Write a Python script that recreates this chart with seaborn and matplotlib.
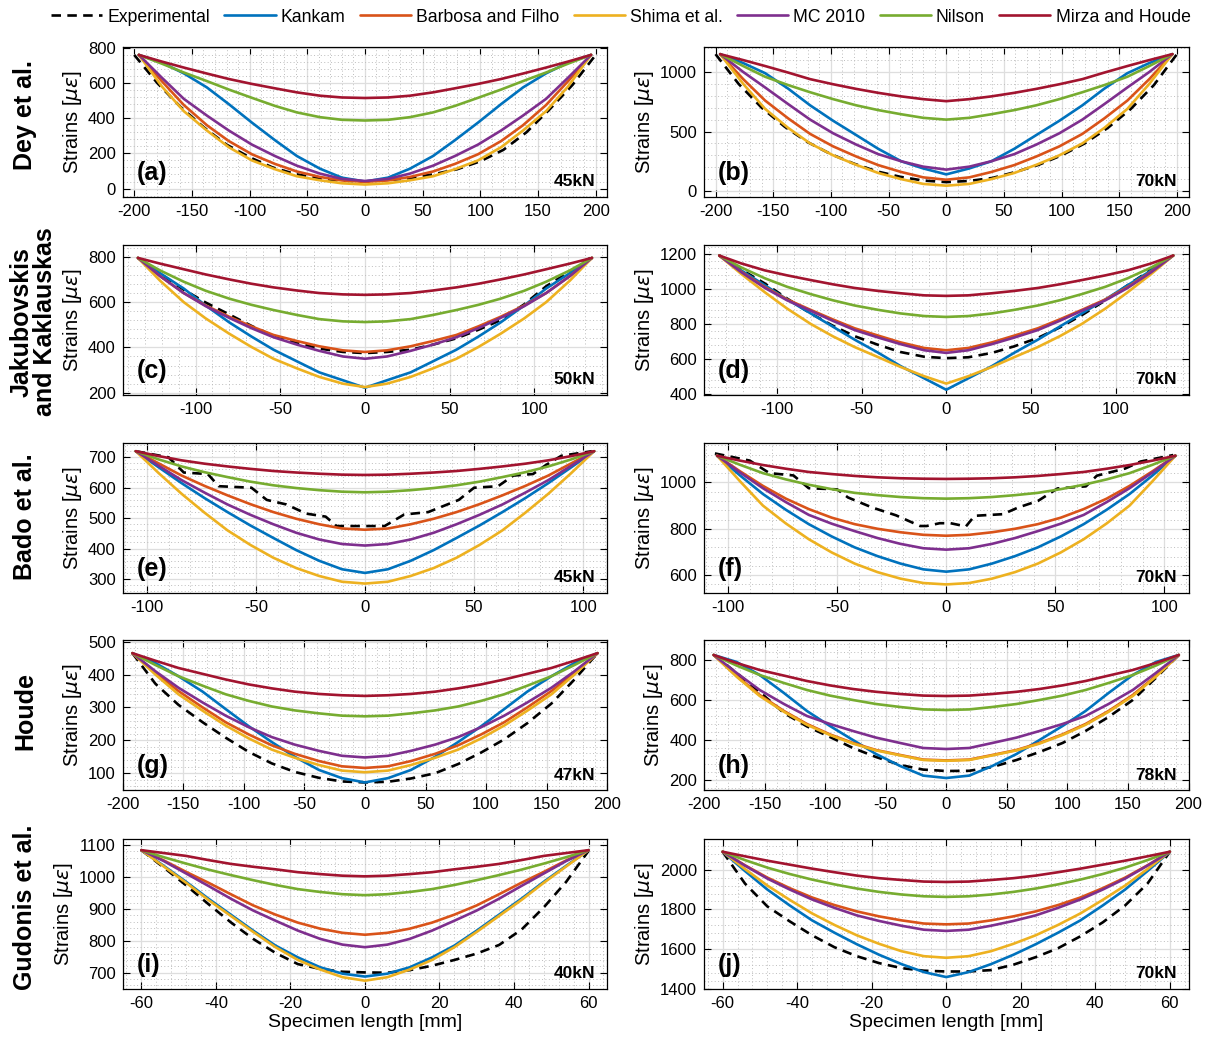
import matplotlib
matplotlib.use("Agg")
import matplotlib.pyplot as plt
import seaborn as sns
from matplotlib.ticker import AutoMinorLocator

sns.set_theme(style="ticks")
plt.rcParams['font.family'] = ['Liberation Sans', 'DejaVu Sans']
plt.rcParams['mathtext.fontset'] = 'dejavusans'
plt.rcParams['axes.unicode_minus'] = False
for key in ['text.color', 'axes.labelcolor', 'xtick.color', 'ytick.color']:
    plt.rcParams[key] = 'black'

# legend / series names
series_names = ["Experimental", "Kankam", "Barbosa and Filho", "Shima et al.",
                "MC 2010", "Nilson", "Mirza and Houde"]
model_colors = ["#0072BD", "#D95319", "#EDB120", "#7E2F8E", "#77AC30", "#A2142F"]

row_titles = ["Dey et al.", "Jakubovskis\nand Kaklauskas", "Bado et al.", "Houde", "Gudonis et al."]
tags = ["(a)", "(b)", "(c)", "(d)", "(e)", "(f)", "(g)", "(h)", "(i)", "(j)"]
loads = ["45kN", "70kN", "50kN", "70kN", "45kN", "70kN", "47kN", "78kN", "40kN", "70kN"]

# ---- sample positions along the specimen [mm] ----
x_ab = [-196, -176, -157, -137, -118, -98, -78, -59, -39, -20, 0,
        20, 39, 59, 78, 98, 118, 137, 157, 176, 196]
x_cd = [-134, -121, -107, -94, -80, -67, -54, -40, -27, -13, 0,
        13, 27, 40, 54, 67, 80, 94, 107, 121, 134]
x_ef = [-105, -94.5, -84, -73.5, -63, -52.5, -42, -31.5, -21, -10.5, 0,
        10.5, 21, 31.5, 42, 52.5, 63, 73.5, 84, 94.5, 105]
x_gh = [-192, -173, -154, -134, -115, -96, -77, -58, -38, -19, 0,
        19, 38, 58, 77, 96, 115, 134, 154, 173, 192]
x_ij = [-60, -54, -48, -42, -36, -30, -24, -18, -12, -6, 0,
        6, 12, 18, 24, 30, 36, 42, 48, 54, 60]
exp_x_ab = [-200, -180, -160, -140, -120, -100, -80, -60, -40, -20, 0,
            20, 40, 60, 80, 100, 120, 140, 160, 180, 200]

# ---- (a) Dey et al. 45kN ----
exp_a = [760, 600, 465, 350, 250, 178, 120, 82, 57, 45, 40, 48, 60, 82, 110, 155, 220, 320, 450, 590, 760]
kankam_a = [760, 716, 655, 575, 480, 375, 275, 185, 113, 62, 40, 62, 113, 185, 275, 375, 480, 575, 655, 716, 760]
barbosa_a = [760, 610, 475, 360, 270, 195, 140, 97, 66, 46, 38, 46, 66, 97, 140, 195, 270, 360, 475, 610, 760]
shima_a = [760, 580, 440, 330, 235, 160, 110, 70, 47, 30, 23, 30, 47, 70, 110, 160, 235, 330, 440, 580, 760]
mc2010_a = [760, 630, 510, 415, 330, 250, 185, 130, 85, 55, 43, 55, 85, 130, 185, 250, 330, 415, 510, 630, 760]
nilson_a = [760, 710, 660, 611, 563, 516, 470, 433, 406, 391, 387, 391, 406, 433, 470, 516, 563, 611, 660, 710, 760]
mirza_a = [760, 722, 688, 654, 623, 595, 570, 547, 528, 518, 515, 518, 528, 547, 570, 595, 623, 654, 688, 722, 760]

# ---- (b) Dey et al. 70kN ----
exp_b = [1150, 900, 700, 540, 410, 310, 230, 165, 120, 88, 75, 85, 110, 160, 220, 300, 400, 530, 690, 890, 1150]
kankam_b = [1150, 1075, 990, 860, 720, 590, 470, 355, 250, 190, 140, 190, 250, 355, 470, 590, 720, 860, 990, 1075, 1150]
barbosa_b = [1150, 940, 760, 610, 480, 375, 290, 218, 160, 115, 95, 115, 160, 218, 290, 375, 480, 610, 760, 940, 1150]
shima_b = [1150, 900, 690, 530, 400, 300, 220, 152, 100, 60, 45, 60, 100, 152, 220, 300, 400, 530, 690, 900, 1150]
mc2010_b = [1150, 1000, 870, 730, 600, 485, 390, 310, 250, 205, 180, 205, 250, 310, 390, 485, 600, 730, 870, 1000, 1150]
nilson_b = [1150, 1050, 960, 890, 830, 772, 720, 680, 645, 615, 600, 615, 645, 680, 720, 772, 830, 890, 960, 1050, 1150]
mirza_b = [1150, 1100, 1050, 995, 940, 897, 858, 825, 795, 772, 755, 772, 795, 825, 858, 897, 940, 995, 1050, 1100, 1150]

# ---- (c) Jakubovskis and Kaklauskas 50kN ----
exp_c = [795, 725, 655, 598, 545, 495, 450, 420, 395, 380, 375, 380, 390, 412, 440, 478, 520, 590, 670, 735, 800]
kankam_c = [795, 728, 660, 585, 510, 448, 390, 338, 290, 255, 222, 255, 290, 338, 390, 448, 510, 585, 660, 728, 795]
barbosa_c = [795, 715, 640, 585, 535, 493, 455, 428, 405, 387, 380, 387, 405, 428, 455, 493, 535, 585, 640, 715, 795]
shima_c = [795, 695, 600, 528, 460, 402, 350, 307, 270, 240, 225, 240, 270, 307, 350, 402, 460, 528, 600, 695, 795]
mc2010_c = [795, 715, 640, 582, 530, 485, 445, 412, 385, 360, 350, 360, 385, 412, 445, 485, 530, 582, 640, 715, 795]
nilson_c = [795, 740, 690, 650, 615, 588, 565, 543, 525, 515, 512, 515, 525, 543, 565, 588, 615, 650, 690, 740, 795]
mirza_c = [795, 770, 745, 722, 700, 681, 665, 651, 640, 634, 632, 634, 640, 651, 665, 681, 700, 722, 745, 770, 795]

# ---- (d) Jakubovskis and Kaklauskas 70kN ----
exp_d = [1190, 1110, 1030, 945, 860, 790, 730, 680, 640, 613, 605, 610, 635, 672, 720, 780, 850, 935, 1020, 1110, 1195]
kankam_d = [1190, 1105, 1020, 940, 860, 785, 710, 635, 560, 490, 425, 490, 560, 635, 710, 785, 860, 940, 1020, 1105, 1190]
barbosa_d = [1190, 1098, 1010, 940, 880, 826, 775, 733, 695, 663, 650, 663, 695, 733, 775, 826, 880, 940, 1010, 1098, 1190]
shima_d = [1190, 1085, 980, 888, 800, 730, 668, 610, 555, 502, 460, 502, 555, 610, 668, 730, 800, 888, 980, 1085, 1190]
mc2010_d = [1190, 1095, 1005, 935, 875, 818, 765, 722, 685, 650, 635, 650, 685, 722, 765, 818, 875, 935, 1005, 1095, 1190]
nilson_d = [1190, 1122, 1060, 1012, 970, 935, 905, 880, 860, 845, 840, 845, 860, 880, 905, 935, 970, 1012, 1060, 1122, 1190]
mirza_d = [1190, 1145, 1105, 1077, 1050, 1026, 1005, 988, 975, 963, 960, 963, 975, 988, 1005, 1026, 1050, 1077, 1105, 1145, 1190]

# ---- (e) Bado et al. 45kN ----
exp_x_e = [-105, -90, -83, -72, -67, -52, -45, -36, -27, -18, -13, 9, 18, 29, 36,
           43, 50, 61, 68, 77, 83, 90, 104]
exp_e = [720, 700, 650, 645, 605, 600, 560, 545, 515, 505, 474, 474, 512, 520, 540,
         560, 600, 605, 640, 645, 675, 705, 720]
kankam_e = [720, 667, 615, 566, 520, 476, 435, 395, 360, 332, 320, 332, 360, 395, 435, 476, 520, 566, 615, 667, 720]
barbosa_e = [720, 680, 640, 606, 575, 546, 520, 498, 480, 466, 462, 466, 480, 498, 520, 546, 575, 606, 640, 680, 720]
shima_e = [720, 648, 580, 518, 460, 412, 370, 336, 310, 291, 285, 291, 310, 336, 370, 412, 460, 518, 580, 648, 720]
mc2010_e = [720, 672, 625, 584, 545, 511, 480, 452, 430, 415, 410, 415, 430, 452, 480, 511, 545, 584, 625, 672, 720]
nilson_e = [720, 693, 670, 651, 635, 620, 608, 599, 592, 587, 585, 587, 592, 599, 608, 620, 635, 651, 670, 693, 720]
mirza_e = [720, 704, 690, 679, 670, 662, 655, 650, 646, 643, 642, 643, 646, 650, 655, 662, 670, 679, 690, 704, 720]

# ---- (f) Bado et al. 70kN ----
exp_x_f = [-106, -90, -81, -70, -63, -50, -45, -34, -23, -12, -9, -3, 2, 9, 13, 26,
           33, 42, 51, 64, 69, 82, 89, 104]
exp_f = [1125, 1094, 1040, 1030, 975, 970, 935, 892, 858, 812, 812, 824, 824, 810,
         856, 863, 892, 920, 974, 983, 1029, 1060, 1090, 1118]
kankam_f = [1115, 1030, 950, 882, 820, 767, 720, 682, 650, 625, 615, 625, 650, 682, 720, 767, 820, 882, 950, 1030, 1115]
barbosa_f = [1115, 1048, 985, 930, 885, 848, 820, 800, 785, 774, 770, 774, 785, 800, 820, 848, 885, 930, 985, 1048, 1115]
shima_f = [1115, 1005, 900, 823, 755, 698, 650, 613, 585, 566, 560, 566, 585, 613, 650, 698, 755, 823, 900, 1005, 1115]
mc2010_f = [1115, 1043, 975, 915, 860, 822, 790, 760, 735, 716, 710, 716, 735, 760, 790, 822, 860, 915, 975, 1043, 1115]
nilson_f = [1115, 1076, 1040, 1013, 990, 971, 955, 945, 937, 932, 930, 932, 937, 945, 955, 971, 990, 1013, 1040, 1076, 1115]
mirza_f = [1115, 1094, 1075, 1059, 1045, 1036, 1028, 1022, 1018, 1016, 1015, 1016, 1018, 1022, 1028, 1036, 1045, 1059, 1075, 1094, 1115]

# ---- (g) Houde 47kN ----
exp_g = [465, 372, 308, 255, 208, 165, 130, 104, 86, 75, 72, 74, 84, 100, 128, 163, 203, 252, 312, 385, 465]
kankam_g = [465, 435, 395, 348, 295, 243, 195, 150, 110, 85, 72, 85, 110, 150, 195, 243, 295, 348, 395, 435, 465]
barbosa_g = [465, 405, 350, 300, 255, 218, 185, 159, 137, 121, 116, 121, 137, 159, 185, 218, 255, 300, 350, 405, 465]
shima_g = [465, 400, 340, 290, 245, 206, 172, 147, 125, 108, 103, 108, 125, 147, 172, 206, 245, 290, 340, 400, 465]
mc2010_g = [465, 410, 360, 315, 275, 240, 210, 187, 168, 153, 148, 153, 168, 187, 210, 240, 275, 315, 360, 410, 465]
nilson_g = [465, 429, 395, 366, 340, 320, 303, 291, 282, 275, 273, 275, 282, 291, 303, 320, 340, 366, 395, 429, 465]
mirza_g = [465, 442, 420, 402, 385, 370, 358, 348, 341, 337, 335, 337, 341, 348, 358, 370, 385, 402, 420, 442, 465]

# ---- (h) Houde 78kN ----
exp_h = [825, 735, 640, 535, 468, 415, 360, 315, 275, 252, 245, 246, 265, 300, 340, 385, 445, 515, 600, 710, 825]
kankam_h = [825, 790, 725, 635, 545, 470, 400, 330, 270, 222, 210, 222, 270, 330, 400, 470, 545, 635, 725, 790, 825]
barbosa_h = [825, 720, 625, 545, 480, 428, 385, 350, 325, 302, 298, 302, 325, 350, 385, 428, 480, 545, 625, 720, 825]
shima_h = [825, 716, 620, 541, 476, 425, 382, 348, 323, 300, 296, 300, 323, 348, 382, 425, 476, 541, 620, 716, 825]
mc2010_h = [825, 735, 650, 580, 520, 480, 445, 412, 385, 360, 355, 360, 385, 412, 445, 480, 520, 580, 650, 735, 825]
nilson_h = [825, 772, 725, 685, 650, 622, 600, 580, 565, 553, 550, 553, 565, 580, 600, 622, 650, 685, 725, 772, 825]
mirza_h = [825, 785, 750, 722, 695, 673, 655, 641, 630, 622, 620, 622, 630, 641, 655, 673, 695, 722, 750, 785, 825]

# ---- (i) Gudonis et al. 40kN ----
exp_i = [1084, 1030, 974, 915, 858, 806, 762, 727, 712, 703, 701, 700, 708, 722, 740, 760, 787, 835, 905, 985, 1082]
kankam_i = [1084, 1035, 985, 932, 882, 832, 785, 748, 717, 697, 688, 697, 717, 748, 785, 832, 882, 932, 985, 1035, 1084]
barbosa_i = [1084, 1052, 1016, 982, 946, 911, 882, 857, 838, 825, 819, 825, 838, 857, 882, 911, 946, 982, 1016, 1052, 1084]
shima_i = [1084, 1033, 982, 928, 878, 828, 780, 740, 710, 686, 675, 686, 710, 740, 780, 828, 878, 928, 982, 1033, 1084]
mc2010_i = [1084, 1050, 1011, 972, 932, 895, 863, 832, 806, 788, 780, 788, 806, 832, 863, 895, 932, 972, 1011, 1050, 1084]
nilson_i = [1084, 1062, 1042, 1023, 1006, 990, 975, 962, 953, 946, 943, 946, 953, 962, 975, 990, 1006, 1023, 1042, 1062, 1084]
mirza_i = [1084, 1075, 1066, 1053, 1041, 1032, 1024, 1015, 1009, 1004, 1002, 1004, 1009, 1015, 1024, 1032, 1041, 1053, 1066, 1075, 1084]

# ---- (j) Gudonis et al. 70kN ----
exp_j = [2090, 1930, 1815, 1740, 1670, 1610, 1565, 1530, 1505, 1492, 1488, 1488, 1495, 1522, 1560, 1605, 1665, 1735, 1820, 1930, 2090]
kankam_j = [2090, 1993, 1900, 1820, 1745, 1683, 1625, 1572, 1525, 1485, 1460, 1485, 1525, 1572, 1625, 1683, 1745, 1820, 1900, 1993, 2090]
barbosa_j = [2090, 2022, 1960, 1907, 1860, 1822, 1790, 1765, 1745, 1729, 1725, 1729, 1745, 1765, 1790, 1822, 1860, 1907, 1960, 2022, 2090]
shima_j = [2090, 2003, 1920, 1848, 1780, 1722, 1670, 1627, 1590, 1565, 1557, 1565, 1590, 1627, 1670, 1722, 1780, 1848, 1920, 2003, 2090]
mc2010_j = [2090, 2020, 1955, 1900, 1850, 1808, 1770, 1742, 1718, 1698, 1692, 1698, 1718, 1742, 1770, 1808, 1850, 1900, 1955, 2020, 2090]
nilson_j = [2090, 2048, 2010, 1978, 1950, 1926, 1905, 1888, 1875, 1866, 1863, 1866, 1875, 1888, 1905, 1926, 1950, 1978, 2010, 2048, 2090]
mirza_j = [2090, 2067, 2045, 2025, 2005, 1987, 1970, 1957, 1948, 1940, 1938, 1940, 1948, 1957, 1970, 1987, 2005, 2025, 2045, 2067, 2090]

panels = [
    (x_ab, exp_x_ab, exp_a, [kankam_a, barbosa_a, shima_a, mc2010_a, nilson_a, mirza_a]),
    (x_ab, exp_x_ab, exp_b, [kankam_b, barbosa_b, shima_b, mc2010_b, nilson_b, mirza_b]),
    (x_cd, x_cd, exp_c, [kankam_c, barbosa_c, shima_c, mc2010_c, nilson_c, mirza_c]),
    (x_cd, x_cd, exp_d, [kankam_d, barbosa_d, shima_d, mc2010_d, nilson_d, mirza_d]),
    (x_ef, exp_x_e, exp_e, [kankam_e, barbosa_e, shima_e, mc2010_e, nilson_e, mirza_e]),
    (x_ef, exp_x_f, exp_f, [kankam_f, barbosa_f, shima_f, mc2010_f, nilson_f, mirza_f]),
    (x_gh, x_gh, exp_g, [kankam_g, barbosa_g, shima_g, mc2010_g, nilson_g, mirza_g]),
    (x_gh, x_gh, exp_h, [kankam_h, barbosa_h, shima_h, mc2010_h, nilson_h, mirza_h]),
    (x_ij, x_ij, exp_i, [kankam_i, barbosa_i, shima_i, mc2010_i, nilson_i, mirza_i]),
    (x_ij, x_ij, exp_j, [kankam_j, barbosa_j, shima_j, mc2010_j, nilson_j, mirza_j]),
]

# axis ranges / ticks per panel
xlims = [210, 210, 143, 143, 111, 111, 200, 200, 65, 65]
xtick_sets = [range(-200, 201, 50), range(-200, 201, 50),
              range(-100, 101, 50), range(-100, 101, 50),
              range(-100, 101, 50), range(-100, 101, 50),
              range(-200, 201, 50), range(-200, 201, 50),
              range(-60, 61, 20), range(-60, 61, 20)]
ylims = [(-48, 805), (-50, 1210), (190, 852), (395, 1250), (254, 747),
         (523, 1170), (49, 505), (150, 900), (649, 1119), (1400, 2154)]
ytick_sets = [range(0, 801, 200), range(0, 1001, 500), range(200, 801, 200),
              range(400, 1201, 200), range(300, 701, 100), range(600, 1001, 200),
              range(100, 501, 100), range(200, 801, 200), range(700, 1101, 100),
              range(1400, 2001, 200)]

W, H = 1213, 1045
fig = plt.figure(figsize=(W / 100, H / 100), dpi=100)

col_left = [122.7, 704]
col_width = 484.5
row_top = [47, 245, 443, 640, 839]
row_height = 150
row_title_y = [115, 322, 517, 711, 907]

lw = 1.9
axes = []
for k, (xs, ex, ey, curves) in enumerate(panels):
    r, c = divmod(k, 2)
    ax = fig.add_axes([col_left[c] / W, 1 - (row_top[r] + row_height) / H,
                       col_width / W, row_height / H])
    axes.append(ax)
    sns.lineplot(x=ex, y=ey, ax=ax, color="black", linewidth=lw,
                 linestyle=(0, (3.6, 2.4)), errorbar=None)
    for ys, col in zip(curves, model_colors):
        sns.lineplot(x=xs, y=ys, ax=ax, color=col, linewidth=lw, errorbar=None)

    ax.set_xlim(-xlims[k], xlims[k])
    ax.set_ylim(*ylims[k])
    ax.set_xticks(list(xtick_sets[k]))
    ax.set_yticks(list(ytick_sets[k]))
    ax.xaxis.set_minor_locator(AutoMinorLocator(5))
    ax.yaxis.set_minor_locator(AutoMinorLocator(5))
    ax.grid(which="major", color="#dedede", linewidth=0.9, linestyle="-")
    ax.grid(which="minor", color="#bdbdbd", linewidth=0.7, linestyle=(0, (1, 2.5)))
    ax.set_axisbelow(True)
    ax.tick_params(which="major", direction="in", top=True, right=True,
                   length=5, width=0.8, labelsize=12, colors="black", pad=5)
    ax.tick_params(which="minor", length=0)
    for sp in ax.spines.values():
        sp.set_color("black")
        sp.set_linewidth(0.9)
    ax.set_ylabel(r"Strains [$\mu\epsilon$]", fontsize=14.5, labelpad=3)
    if r == 4:
        ax.set_xlabel("Specimen length [mm]", fontsize=14, labelpad=2)
    else:
        ax.set_xlabel("")
    ax.text(0.029, 0.16, tags[k], transform=ax.transAxes, fontsize=18,
            fontweight="bold", ha="left", va="center")
    ax.text(0.975, 0.1, loads[k], transform=ax.transAxes, fontsize=12.5,
            fontweight="bold", ha="right", va="center")

for r, title in enumerate(row_titles):
    xc = 33 if "\n" in title else 25
    fig.text(xc / W, 1 - row_title_y[r] / H, title, rotation=90,
             fontsize=18, fontweight="bold", ha="center", va="center",
             multialignment="center", linespacing=0.95)

handles = axes[0].get_lines()[:7]
fig.legend(handles, series_names, loc="center", bbox_to_anchor=(0.5118, 1 - 17 / H),
           ncol=7, frameon=False, fontsize=12.7, handlelength=2.9,
           handletextpad=0.3, columnspacing=0.8)

fig.savefig("out.png", dpi=100)
